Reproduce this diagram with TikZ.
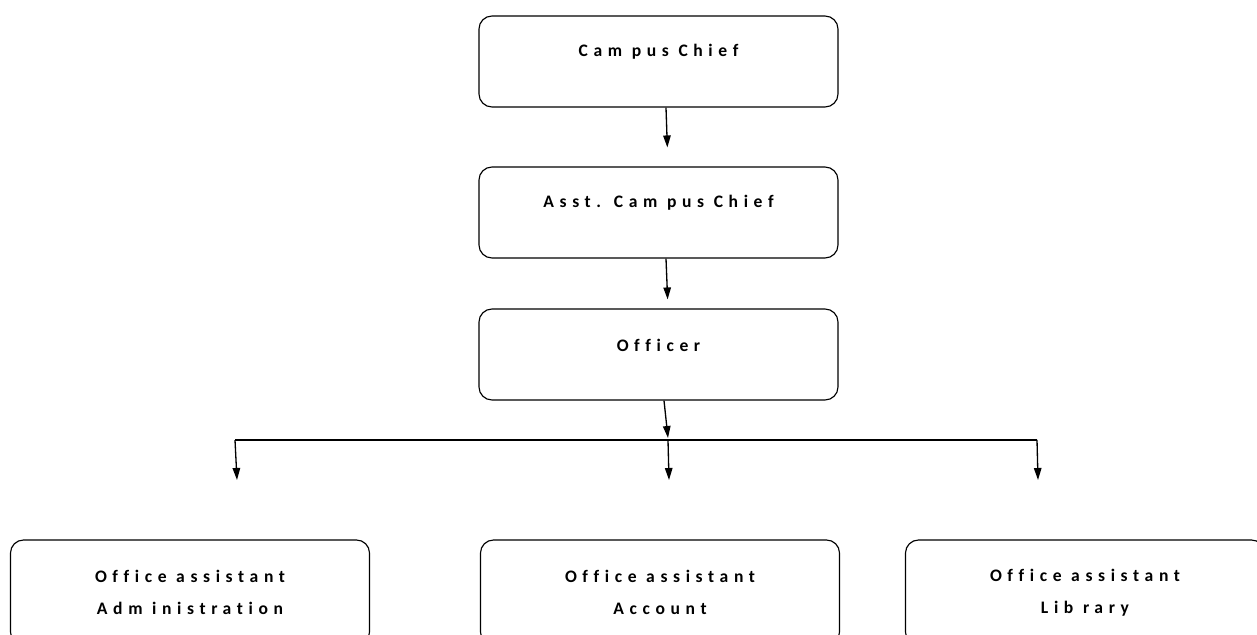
\documentclass[tikz,border=0pt]{standalone}
\usepackage{fontspec}
\setmainfont{Carlito}
\newfontfamily\boxfont[LetterSpace=32,Ligatures={NoCommon}]{Carlito Bold}
\usetikzlibrary{arrows.meta}

\begin{document}
\begin{tikzpicture}[
  box/.style={draw,line width=0.65pt,rounded corners=0.26cm,minimum width=7.18cm,minimum height=1.82cm,inner sep=0pt},
  lowbox/.style={box,minimum height=2.1cm},
  lbl/.style={font=\boxfont\fontsize{10}{12}\selectfont,inner sep=0pt,align=center},
  arr/.style={line width=0.75pt,-{Triangle[length=0.24cm,width=0.15cm]}}
]
\useasboundingbox (0,0) rectangle (25.14,-12.7);
% chain of posts
\node[box] (chief) at (13.17,-1.23) {};
\node[lbl] (chieft) at ([yshift=0.19cm]chief.center) {Cam pus Chief};
\node[box] (asst) at (13.17,-4.25) {};
\node[lbl] (asstt) at ([yshift=0.19cm]asst.center) {Asst. Cam pus Chief};
\node[box] (officer) at (13.17,-7.09) {};
\node[lbl] (officert) at ([yshift=0.19cm]officer.center) {Officer};
% assistants
\node[lowbox] (admin) at (3.8,-11.85) {};
\node[lbl] (admint) at ([yshift=0.0cm]admin.center) {Office assistant\\[6.5pt]Adm inistration};
\node[lowbox] (account) at (13.2,-11.85) {};
\node[lbl] (accountt) at ([yshift=0.0cm]account.center) {Office assistant\\[6.5pt]Account};
\node[lowbox] (library) at (21.7,-11.85) {};
\node[lbl] (libraryt) at ([yshift=0.0cm]library.center) {Office assistant\\[6.5pt]Lib rary};
% connectors
\draw[arr,shorten >=0.38cm] ([xshift=0.15cm]chief.south) -- ([xshift=0.19cm]asst.north);
\draw[arr,shorten >=0.18cm] ([xshift=0.15cm]asst.south) -- ([xshift=0.19cm]officer.north);
\coordinate (bl) at (4.7,-8.8);
\coordinate (bm) at (13.36,-8.8);
\coordinate (br) at (20.74,-8.8);
\draw[line width=0.65pt] (bl) -- (br);
\draw[arr] ([xshift=0.11cm]officer.south) -- ([yshift=0.04cm]bm);
\draw[arr] (bm) -- ++(0.02,-0.8) coordinate (em);
\draw[arr] (bl) -- ++(0.04,-0.8) coordinate (el);
\draw[arr] (br) -- ++(0.02,-0.8) coordinate (er);
\end{tikzpicture}
\end{document}
